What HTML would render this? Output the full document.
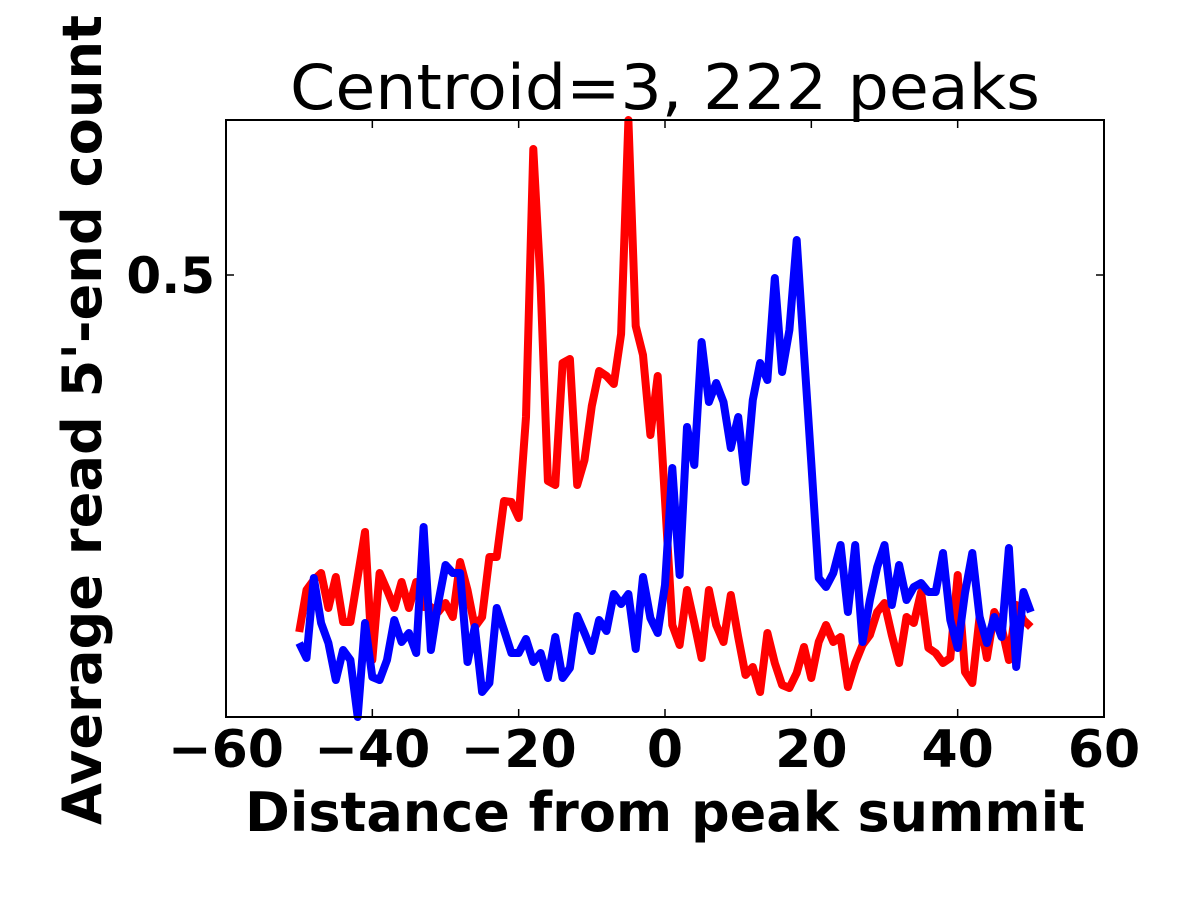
<!DOCTYPE html>
<html><head><meta charset="utf-8"><style>
html,body{margin:0;padding:0;background:#fff;}
svg{display:block;font-family:"DejaVu Sans","Liberation Sans",sans-serif;}
</style></head><body>
<svg id="chart" width="1200" height="900" viewBox="0 0 1200 900" xmlns="http://www.w3.org/2000/svg">
<rect width="1200" height="900" fill="#fff"/>
<text x="665" y="109" font-size="62" text-anchor="middle" textLength="750" lengthAdjust="spacingAndGlyphs">Centroid=3, 222 peaks</text>
<g id="series"></g>
<rect x="226" y="120" width="878" height="597" fill="none" stroke="#000" stroke-width="2"/>
<g id="ticks"></g>
<text x="665" y="831" font-size="54" font-weight="bold" text-anchor="middle" textLength="840" lengthAdjust="spacingAndGlyphs">Distance from peak summit</text>
<text x="0" y="0" font-size="54" font-weight="bold" text-anchor="middle" textLength="810" lengthAdjust="spacingAndGlyphs" transform="translate(101,420) rotate(-90)">Average read 5'-end count</text>
</svg>
<script>
const xs = [];
for (let i = -50; i <= 50; i++) xs.push(i);
const redValues = [.143,.185,.195,.202,.167,.198,.153,.153,.198,.243,
.115,.202,.185,.167,.193,.167,.193,.168,.168,.163,
.172,.158,.213,.185,.148,.158,.218,.218,.274,.273,
.257,
.358,.626,.490,.294,.290,.412,.416,.290,.315,
.369,.404,.399,.391,.441,.655,.449,.420,.340,.399,
.275,
.150,.130,.185,.152,.117,.185,.150,.133,.180,.138,
.100,.108,.083,.142,.112,.090,.087,.102,.128,.097,
.133,.150,.133,.138,.088,.112,.130,.140,.163,.172,
.140,.112,.158,.152,.183,.127,.122,.112,.117,.200,
.103,.092,.158,.117,.163,.148,.115,.170,.155,.148];
const blueValues = [.132,.117,.197,.152,.132,.095,.125,.115,.058,.152,
.098,.095,.115,.155,.133,.142,.122,.248,.125,.172,
.210,.202,.202,.113,.148,.083,.092,.167,.145,.122,
.122,
.136,.113,.122,.097,.138,.097,.107,.159,.142,
.124,.155,.144,.181,.171,.181,.126,.198,.157,.142,
.190,
.307,.200,.348,.310,.433,.373,.392,.373,.327,.358,
.293,.375,.412,.395,.497,.403,.445,.535,.422,.312,
.197,.188,.202,.230,.163,.230,.133,.175,.208,.230,
.170,.210,.175,.188,.192,.183,.183,.222,.155,.127,
.182,.222,.158,.132,.158,.138,.227,.108,.183,.163];
const xTicks = [-60,-40,-20,0,20,40,60];
const yTicks = [0.5];
const xMin=-60,xMax=60,yMin=0.058,yMax=0.655;
const L=226,R=1104,T=120,B=717;
const sx=v=>L+(v-xMin)/(xMax-xMin)*(R-L);
const sy=v=>B-(v-yMin)/(yMax-yMin)*(B-T);
const NS='http://www.w3.org/2000/svg';
const sg=document.getElementById('series');
function line(vals,color,name){
  const p=document.createElementNS(NS,'polyline');
  p.setAttribute('points',vals.map((v,i)=>sx(xs[i]).toFixed(1)+','+sy(v).toFixed(1)).join(' '));
  p.setAttribute('fill','none');p.setAttribute('stroke',color);p.setAttribute('stroke-width','8');
  p.setAttribute('stroke-linejoin','round');
  
  
  sg.appendChild(p);
}
line(redValues,'#ff0000','red-series-line');
line(blueValues,'#0000ff','blue-series-line');
const tg=document.getElementById('ticks');
xTicks.forEach(t=>{
  const x=sx(t);
  [[B,B-8],[T,T+8]].forEach(([a,b])=>{
    const l=document.createElementNS(NS,'line');
    l.setAttribute('x1',x);l.setAttribute('x2',x);l.setAttribute('y1',a);l.setAttribute('y2',b);
    l.setAttribute('stroke','#000');l.setAttribute('stroke-width','1.5');
    
    
    tg.appendChild(l);
  });
  const tx=document.createElementNS(NS,'text');
  tx.setAttribute('x',x);tx.setAttribute('y',767);tx.setAttribute('font-size','52');
  tx.setAttribute('font-weight','bold');tx.setAttribute('text-anchor','middle');
  tx.textContent=(t<0?'\u2212':'')+Math.abs(t);
  
  
  tg.appendChild(tx);
});
yTicks.forEach(t=>{
  const y=sy(t);
  [[L,L+8],[R,R-8]].forEach(([a,b])=>{
    const l=document.createElementNS(NS,'line');
    l.setAttribute('x1',a);l.setAttribute('x2',b);l.setAttribute('y1',y);l.setAttribute('y2',y);
    l.setAttribute('stroke','#000');l.setAttribute('stroke-width','1.5');
    
    
    tg.appendChild(l);
  });
  const tx=document.createElementNS(NS,'text');
  tx.setAttribute('x',215);tx.setAttribute('y',y+18);tx.setAttribute('font-size','50');
  tx.setAttribute('font-weight','bold');tx.setAttribute('text-anchor','end');
  tx.textContent=String(t);
  
  
  tg.appendChild(tx);
});
</script>
</body></html>
